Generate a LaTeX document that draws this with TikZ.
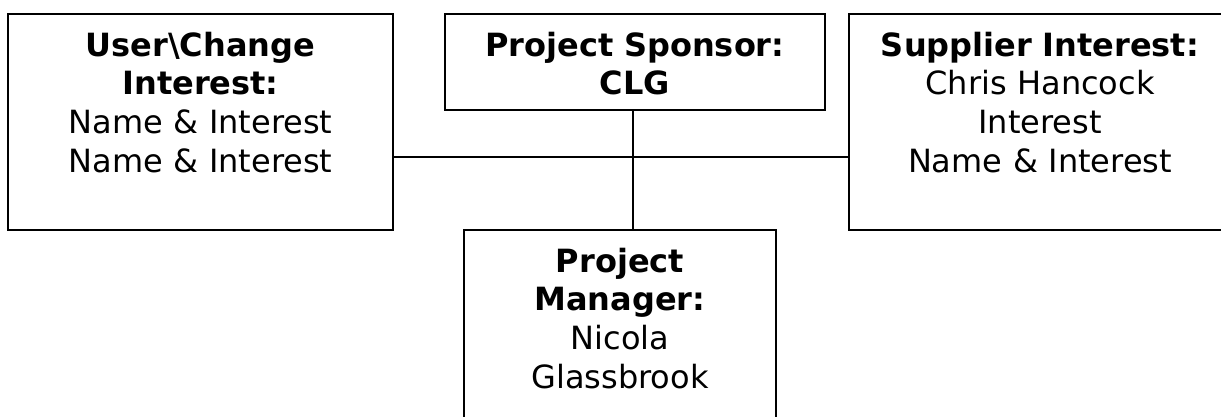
\documentclass[tikz,border=0pt]{standalone}
\usepackage{fontspec}
\setmainfont{DejaVu Sans}

\begin{document}
\begin{tikzpicture}
    [
        x=1pt,
        y=-1pt,
        role/.style={
                draw=black,
                line width=2pt,
                anchor=north,
                align=center,
                inner xsep=0pt,
                inner ysep=18pt,
                text height=24pt,
                text depth=#1,
                font=\fontsize{32}{38.9}\selectfont,
            },
        link/.style={
                draw=black,
                line width=2pt,
            },
    ]

    % page, the right and bottom boxes run off it
    \clip (0,0) rectangle (1221,416);

    % boxes of the project board
    \node [role=36pt, text width=380pt] (sponsor) at (635,13)
        {\textbf{Project Sponsor:}\\\textbf{CLG}};
    \node [role=156pt, text width=385pt] (user) at (200.5,13)
        {\textbf{User\textbackslash Change}\\\textbf{Interest:}\\Name \& Interest\\Name \& Interest};
    \node [role=156pt, text width=382pt] (supplier) at (1040,13)
        {\textbf{Supplier Interest:}\\Chris Hancock\\Interest\\Name \& Interest};
    \node [role=156pt, text width=312pt] (manager) at (620,229)
        {\textbf{Project}\\\textbf{Manager:}\\Nicola\\Glassbrook};

    % reporting lines
    \coordinate (hub) at (633,157);
    \draw [link] (user.east |- hub) -- (supplier.west |- hub);
    \draw [link] (sponsor.south -| hub) -- (manager.north -| hub);
\end{tikzpicture}
\end{document}
